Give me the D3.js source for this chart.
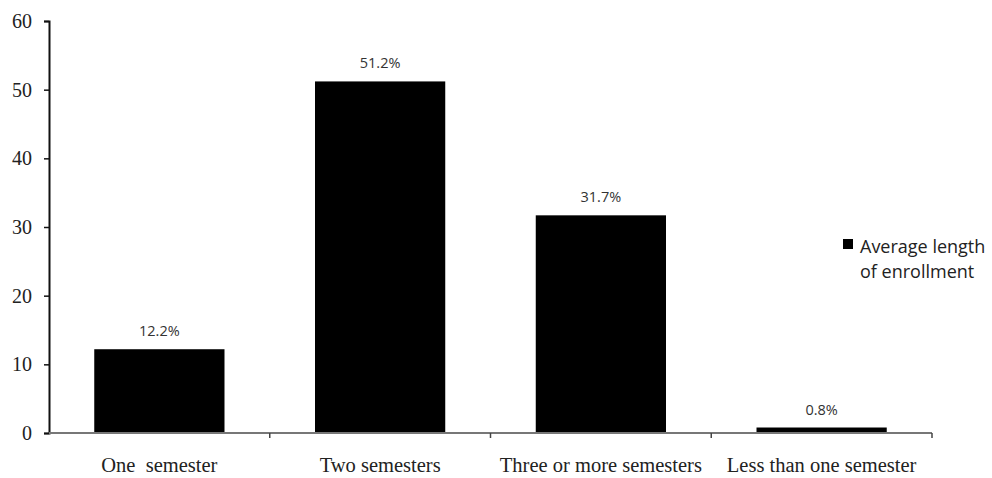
<!DOCTYPE html>
<html>
<head>
<meta charset="utf-8">
<script src="https://cdn.jsdelivr.net/npm/d3@7"></script>
<style>
  body { margin: 0; background: #fff; }
  svg { display: block; }
</style>
</head>
<body>
<svg id="chart" width="992" height="478"></svg>
<script>
// Enrollment length categories and their shares (%)
const categories = ["One  semester", "Two semesters", "Three or more semesters", "Less than one semester"];
const values = [12.2, 51.2, 31.7, 0.8];
const valueLabels = ["12.2%", "51.2%", "31.7%", "0.8%"];
const yTicks = [0, 10, 20, 30, 40, 50, 60];
const legendLines = ["Average length", "of enrollment"];

const svg = d3.select("#chart");
const plotLeft = 49, plotRight = 932, plotTop = 21, plotBottom = 433;

const x = d3.scaleBand().domain(categories).range([plotLeft, plotRight]).paddingInner(0.41).paddingOuter(0.205);
const y = d3.scaleLinear().domain([0, 60]).range([plotBottom, plotTop]);

// Bars
svg.append("g").selectAll("rect").data(values).join("rect")
  .attr("x", (d, i) => x(categories[i]))
  .attr("y", d => y(d))
  .attr("width", x.bandwidth())
  .attr("height", d => plotBottom - y(d))
  .attr("fill", "#000");

// Value labels above bars
svg.append("g").selectAll("text").data(values).join("text")
  .attr("x", (d, i) => x(categories[i]) + x.bandwidth() / 2)
  .attr("y", d => y(d) - 13)
  .attr("text-anchor", "middle")
  .attr("font-family", "'Open Sans', sans-serif")
  .attr("font-size", 14.5)
  .attr("fill", "#333")
  .text((d, i) => valueLabels[i]);

// Y axis
const yAxis = svg.append("g").attr("transform", `translate(${plotLeft},0)`)
  .call(d3.axisLeft(y).tickValues(yTicks).tickSize(5).tickFormat(d3.format("d")));
yAxis.select(".domain").attr("stroke", "#111").attr("stroke-width", 2);
yAxis.selectAll(".tick line").attr("stroke", "#111").attr("stroke-width", 1.5);
yAxis.selectAll(".tick text")
  .attr("font-family", "'Liberation Serif', 'Times New Roman', serif")
  .attr("font-size", 20).attr("fill", "#222").attr("x", -17);

// X axis with ticks at category boundaries
const xg = svg.append("g").attr("transform", `translate(0,${plotBottom})`);
xg.append("line").attr("x1", plotLeft).attr("x2", plotRight).attr("stroke", "#777").attr("stroke-width", 2);
const step = x.step();
const boundaries = categories.map((c, i) => x(c) - x.paddingInner() * step / 2 + step);
xg.selectAll("line.tick").data(boundaries).join("line").attr("class", "tick")
  .attr("x1", d => d).attr("x2", d => d).attr("y1", 0).attr("y2", 5)
  .attr("stroke", "#444").attr("stroke-width", 1.5);
xg.selectAll("text").data(categories).join("text")
  .attr("x", d => x(d) + x.bandwidth() / 2)
  .attr("y", 39)
  .attr("text-anchor", "middle")
  .attr("font-family", "'Liberation Serif', 'Times New Roman', serif")
  .attr("font-size", 20.5)
  .attr("fill", "#222")
  .style("white-space", "pre")
  .text(d => d);

// Legend
const lg = svg.append("g").attr("transform", "translate(843,239)");
lg.append("rect").attr("x", 0).attr("y", 0).attr("width", 10).attr("height", 10).attr("fill", "#000");
lg.selectAll("text").data(legendLines).join("text")
  .attr("x", 17)
  .attr("y", (d, i) => 14 + i * 25)
  .attr("font-family", "'Open Sans', sans-serif")
  .attr("font-size", 18)
  .attr("fill", "#222")
  .text(d => d);
</script>
</body>
</html>
